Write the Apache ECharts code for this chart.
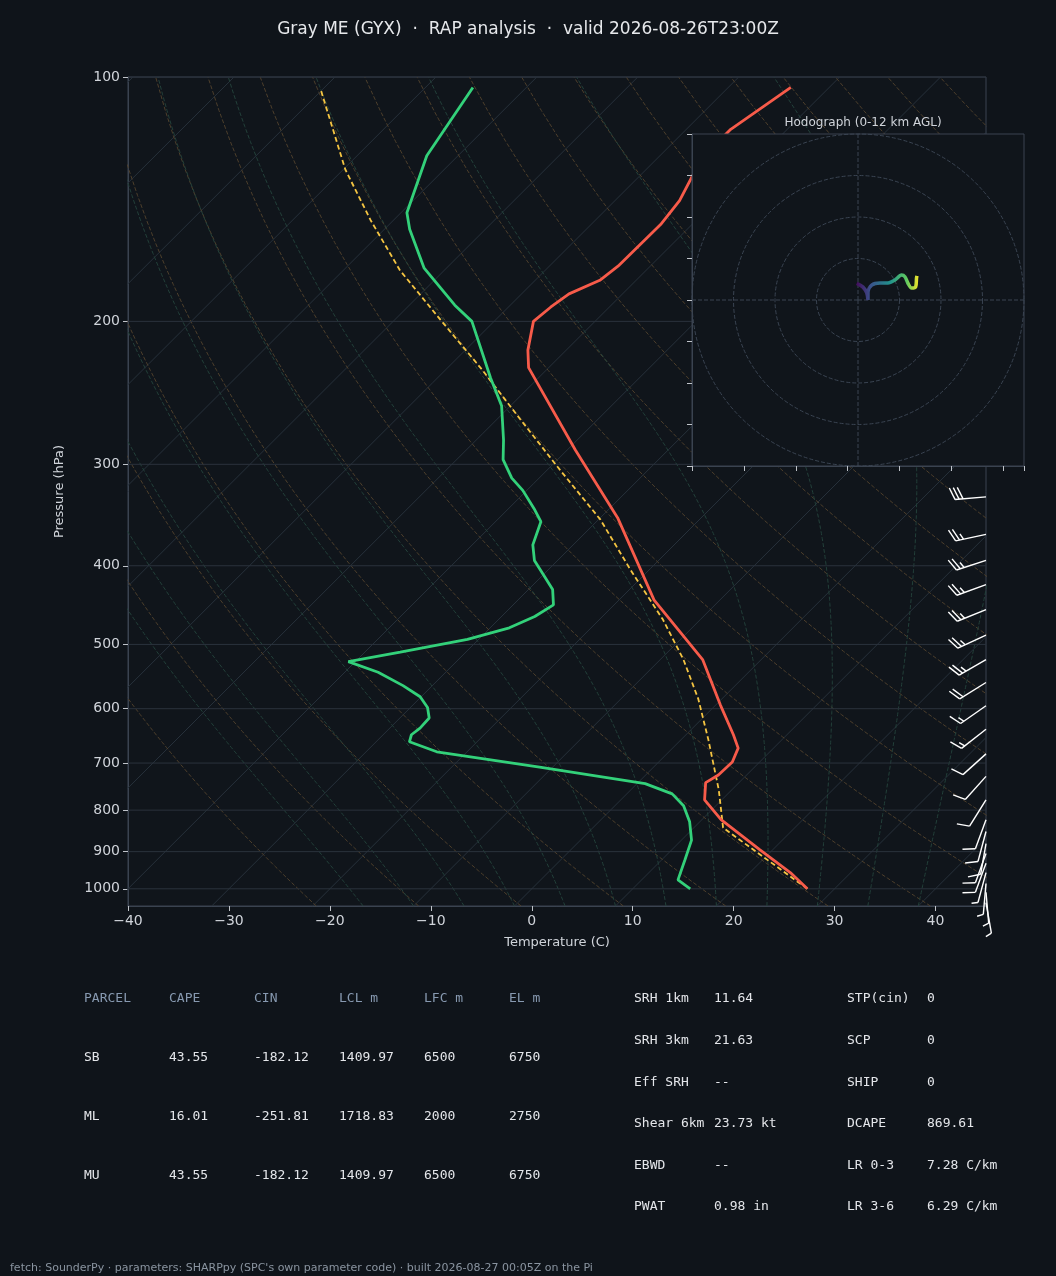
<!DOCTYPE html>
<html>
<head>
<meta charset="utf-8">
<script src="https://cdn.jsdelivr.net/npm/echarts@6/dist/echarts.min.js"></script>
<style>
  html, body {margin: 0; padding: 0; background: #0f141a;}
  #main {width: 1056px; height: 1276px;}
  #hodo {position: absolute; left: 680px; top: 105px; width: 360px; height: 375px;}
</style>
</head>
<body>
<div id="main"></div>
<div id="hodo"></div>
<script>
// sounding (pressure hPa / temperature C)
const tempP = [1000, 955, 895, 822, 777, 740, 724, 698, 671, 646, 593, 522, 441, 349, 288, 228, 217, 200, 192, 185, 178, 171, 152, 142, 126, 116, 103];
const tempT = [27.3, 24.0, 18.7, 11.9, 8.3, 6.7, 7.2, 7.3, 6.5, 4.7, 0.4, -5.8, -16.5, -28.3, -39.2, -52.0, -53.8, -56.1, -55.8, -55.3, -53.6, -53.2, -53.1, -53.6, -55.6, -55.6, -53.8];
const dewP = [1000, 975, 921, 871, 827, 790, 764, 742, 708, 678, 659, 646, 634, 616, 598, 580, 562, 541, 525, 511, 493, 477, 462, 447, 428, 411, 394, 377, 353, 340, 323, 312, 296, 280, 254, 235, 200, 191, 172, 154, 147, 125, 103];
const dewT = [15.7, 13.6, 12.3, 11.0, 9.0, 6.8, 4.5, 0.8, -11.3, -23.0, -26.7, -27.2, -27.0, -27.1, -28.3, -30.1, -32.9, -36.7, -40.7, -36.5, -31.1, -28.1, -26.7, -26.0, -27.6, -29.9, -32.3, -34.0, -35.5, -37.5, -40.4, -42.7, -45.4, -47.3, -50.9, -54.7, -62.2, -65.5, -72.2, -77.5, -79.4, -83.1, -85.3];
const parcelP = [1000, 841, 755, 655, 584, 522, 466, 405, 351, 305, 264, 229, 199, 173, 150, 130, 104];
const parcelT = [27.3, 12.9, 8.7, 2.7, -2.3, -7.7, -13.7, -21.8, -29.8, -38.7, -47.7, -56.5, -65.5, -74.4, -82.3, -89.8, -100];
// wind barbs: pressure, direction (deg), speed (kt)
const barbP = [329, 366, 394, 422, 453, 487, 522, 557, 595, 636, 682, 727, 777, 822, 850, 880, 905, 930, 955, 985, 1010, 1040];
const barbDir = [265, 258, 252, 250, 248, 245, 240, 238, 235, 232, 228, 222, 212, 200, 195, 190, 200, 200, 195, 185, 175, 170];
const barbSpd = [30, 25, 25, 25, 25, 25, 25, 20, 15, 15, 10, 10, 10, 10, 10, 10, 10, 10, 5, 5, 5, 5];
// hodograph u/v (kt)
const hodoU = [-0.3, 1.2, 2.1, 2.4, 2.4, 3.3, 5.3, 7.2, 8.9, 10.5, 11.3, 12.0, 12.9, 13.9, 14.1, 14.2];
const hodoV = [4.0, 3.1, 1.7, 0.0, 1.9, 3.6, 4.1, 4.1, 4.8, 6.0, 5.6, 4.1, 2.9, 3.2, 5.3, 5.8];
const isobars = [100, 200, 300, 400, 500, 600, 700, 800, 900, 1000];
// parameter table
const parcelHead = ['PARCEL', 'CAPE', 'CIN', 'LCL m', 'LFC m', 'EL m'];
const parcelRows = [
  ['SB', '43.55', '-182.12', '1409.97', '6500', '6750'],
  ['ML', '16.01', '-251.81', '1718.83', '2000', '2750'],
  ['MU', '43.55', '-182.12', '1409.97', '6500', '6750']
];
const kinLabels = ['SRH 1km', 'SRH 3km', 'Eff SRH', 'Shear 6km', 'EBWD', 'PWAT'];
const kinValues = ['11.64', '21.63', '--', '23.73 kt', '--', '0.98 in'];
const idxLabels = ['STP(cin)', 'SCP', 'SHIP', 'DCAPE', 'LR 0-3', 'LR 3-6'];
const idxValues = ['0', '0', '0', '869.61', '7.28 C/km', '6.29 C/km'];

const K = 80.5; // skew, C per pressure decade
const sx = (t, p) => t + K * (3 - Math.log10(p));
const pt = (t, p) => [sx(t, p), Math.log10(p)];
const PTOP = 100, PBOT = 1050;

let series = [];
// isotherms
for (let t = -130; t <= 40; t += 10) {
  series.push({type: 'line', silent: true, symbol: 'none', data: [pt(t, PBOT), pt(t, PTOP)],
    lineStyle: {color: '#27313b', width: 1}});
}
// dry adiabats
for (let th = 250; th <= 470; th += 10) {
  let d = [];
  for (let p = PBOT; p >= PTOP; p -= 10) d.push(pt(th * Math.pow(p / 1000, 0.2857) - 273.15, p));
  series.push({type: 'line', silent: true, symbol: 'none', data: d,
    lineStyle: {color: '#4d3f2c', width: 1, type: 'dashed'}});
}
// moist adiabats
for (let t0 = -15; t0 <= 40; t0 += 5) {
  let T = t0 + 273.15, d = [];
  for (let p = PBOT; p >= PTOP; p -= 5) {
    d.push(pt(T - 273.15, p));
    const es = 6.112 * Math.exp(17.67 * (T - 273.15) / (T - 29.65));
    const rs = 0.622 * es / (p - es);
    const dTdp = (287 * T + 2.5e6 * rs) / (p * (1004 + 2.5e6 * 2.5e6 * rs * 0.622 / (287 * T * T)));
    T -= dTdp * 5;
  }
  series.push({type: 'line', silent: true, symbol: 'none', data: d,
    lineStyle: {color: '#23403a', width: 1, type: 'dashed'}});
}
// isobars
isobars.forEach(p => series.push({type: 'line', silent: true, symbol: 'none',
  data: [[-40, Math.log10(p)], [45, Math.log10(p)]], lineStyle: {color: '#2a323c', width: 1}}));

series.push({name: 'Parcel', type: 'line', symbol: 'none', data: parcelP.map((p, i) => pt(parcelT[i], p)),
  lineStyle: {color: '#f5c542', width: 1.8, type: [5, 3]}, z: 5});
series.push({name: 'Td', type: 'line', symbol: 'none', data: dewP.map((p, i) => pt(dewT[i], p)),
  lineStyle: {color: '#33d17a', width: 2.8}, z: 6});
series.push({name: 'T', type: 'line', symbol: 'none', data: tempP.map((p, i) => pt(tempT[i], p)),
  lineStyle: {color: '#f75b4a', width: 2.8}, z: 6});

// wind barbs
series.push({
  type: 'custom', clip: false, z: 7,
  data: barbP.map((p, i) => [45, Math.log10(p), barbDir[i], barbSpd[i]]),
  renderItem: (params, api) => {
    const base = api.coord([api.value(0), api.value(1)]);
    const a = api.value(2) * Math.PI / 180;
    const s = [Math.sin(a), -Math.cos(a)];
    const perp = [-s[1], s[0]];
    const L = 31;
    const tip = [base[0] + s[0] * L, base[1] + s[1] * L];
    const st = {stroke: '#ffffff', lineWidth: 1.4};
    const kids = [{type: 'line', shape: {x1: base[0], y1: base[1], x2: tip[0], y2: tip[1]}, style: st}];
    let spd = api.value(3), pos = 0;
    const full = Math.floor(spd / 10), half = (spd % 10) >= 5 ? 1 : 0;
    for (let k = 0; k < full + half; k++) {
      const len = k < full ? 12 : 6;
      const o = [tip[0] - s[0] * pos, tip[1] - s[1] * pos];
      kids.push({type: 'line', shape: {x1: o[0], y1: o[1],
        x2: o[0] + perp[0] * len + s[0] * len * 0.4, y2: o[1] + perp[1] * len + s[1] * len * 0.4}, style: st});
      pos += 4;
    }
    return {type: 'group', children: kids};
  }
});

// table texts
const tx = (x, y, text, color) => ({type: 'text', left: x, top: y - 7,
  style: {text: text, fill: color, font: '13px "DejaVu Sans Mono"'}});
let graphics = [];
const colX = [84, 169, 254, 339, 424, 509];
parcelHead.forEach((h, i) => graphics.push(tx(colX[i], 999, h, '#8799b0')));
parcelRows.forEach((r, j) => r.forEach((v, i) => graphics.push(tx(colX[i], 1058 + j * 59, v, '#e4e6ea'))));
const rowY = [999, 1041, 1083, 1124, 1166, 1207];
kinLabels.forEach((l, i) => {
  graphics.push(tx(634, rowY[i], l, '#e4e6ea'));
  graphics.push(tx(714, rowY[i], kinValues[i], '#e4e6ea'));
  graphics.push(tx(847, rowY[i], idxLabels[i], '#e4e6ea'));
  graphics.push(tx(927, rowY[i], idxValues[i], '#e4e6ea'));
});
graphics.push({type: 'text', left: 10, top: 1263,
  style: {text: "fetch: SounderPy · parameters: SHARPpy (SPC's own parameter code) · built 2026-08-27 00:05Z on the Pi",
    fill: '#8a94a0', font: '11px "DejaVu Sans"'}});

const axisFont = {color: '#d0d4da', fontSize: 14, fontFamily: 'DejaVu Sans'};
const chart = echarts.init(document.getElementById('main'));
chart.setOption({
  backgroundColor: '#0f141a',
  animation: false,
  title: {text: 'Gray ME (GYX)  ·  RAP analysis  ·  valid 2026-08-26T23:00Z', left: 'center', top: 16,
    textStyle: {color: '#e6e8eb', fontSize: 17, fontWeight: 'normal', fontFamily: 'DejaVu Sans'}},
  grid: {left: 128, right: 70, top: 77, bottom: 370, show: true, borderColor: '#3a4350', backgroundColor: '#10151b'},
  xAxis: {type: 'value', min: -40, max: 45, interval: 10, name: 'Temperature (C)', nameLocation: 'middle', nameGap: 30,
    nameTextStyle: {color: '#d0d4da', fontSize: 13, fontFamily: 'DejaVu Sans'},
    axisLine: {onZero: false, lineStyle: {color: '#3a4350'}}, axisTick: {lineStyle: {color: '#c0c4ca'}},
    axisLabel: Object.assign({showMaxLabel: false, formatter: v => v < 0 ? '\u2212' + (-v) : '' + v}, axisFont),
    splitLine: {show: false}},
  yAxis: {type: 'value', inverse: true, min: 2, max: Math.log10(PBOT), name: 'Pressure (hPa)', nameLocation: 'middle', nameGap: 62,
    nameTextStyle: {color: '#d0d4da', fontSize: 13, fontFamily: 'DejaVu Sans'},
    axisLine: {onZero: false, lineStyle: {color: '#3a4350'}},
    axisTick: {customValues: isobars.map(p => Math.log10(p)), lineStyle: {color: '#c0c4ca'}},
    axisLabel: Object.assign({customValues: isobars.map(p => Math.log10(p)),
      formatter: v => '' + Math.round(Math.pow(10, v))}, axisFont),
    splitLine: {show: false}},
  graphic: graphics,
  series: series
});

// hodograph inset
const hodo = echarts.init(document.getElementById('hodo'));
const hodoData = hodoU.map((u, i) => [u, hodoV[i]]);
hodo.setOption({
  backgroundColor: 'transparent',
  animation: false,
  title: {text: 'Hodograph (0-12 km AGL)', left: 178, top: 7, textAlign: 'center',
    textStyle: {color: '#d0d4da', fontSize: 12, fontWeight: 'normal', fontFamily: 'DejaVu Sans'}},
  grid: {left: 12, top: 29, width: 332, height: 332, show: true, borderColor: '#3a4350', backgroundColor: '#10151b'},
  xAxis: {type: 'value', min: -40, max: 40, interval: 12.5, axisLabel: {show: false},
    axisLine: {onZero: false, lineStyle: {color: '#3a4350'}}, axisTick: {length: 5, lineStyle: {color: '#c0c4ca'}},
    splitLine: {show: false}},
  yAxis: {type: 'value', min: -40, max: 40, interval: 10, axisLabel: {show: false},
    axisLine: {onZero: false, lineStyle: {color: '#3a4350'}}, axisTick: {length: 5, lineStyle: {color: '#c0c4ca'}},
    splitLine: {show: false}},
  polar: {center: [178, 195], radius: 166},
  radiusAxis: {min: 0, max: 40, interval: 10, axisLine: {show: false}, axisTick: {show: false}, axisLabel: {show: false},
    splitLine: {lineStyle: {color: '#3a4452', type: 'dashed'}}},
  angleAxis: {min: 0, max: 360, interval: 90, axisLine: {show: false}, axisTick: {show: false}, axisLabel: {show: false},
    splitLine: {lineStyle: {color: '#3a4452', type: 'dashed'}}},
  series: [{type: 'line', symbol: 'none', data: hodoData, smooth: 0.3, z: 5,
    lineStyle: {width: 3.5, color: new echarts.graphic.LinearGradient(0, 0, 1, 0, [
      {offset: 0, color: '#440154'}, {offset: 0.25, color: '#3b528b'}, {offset: 0.55, color: '#21918c'},
      {offset: 0.8, color: '#5ec962'}, {offset: 1, color: '#fde725'}])}}]
});
</script>
</body>
</html>
